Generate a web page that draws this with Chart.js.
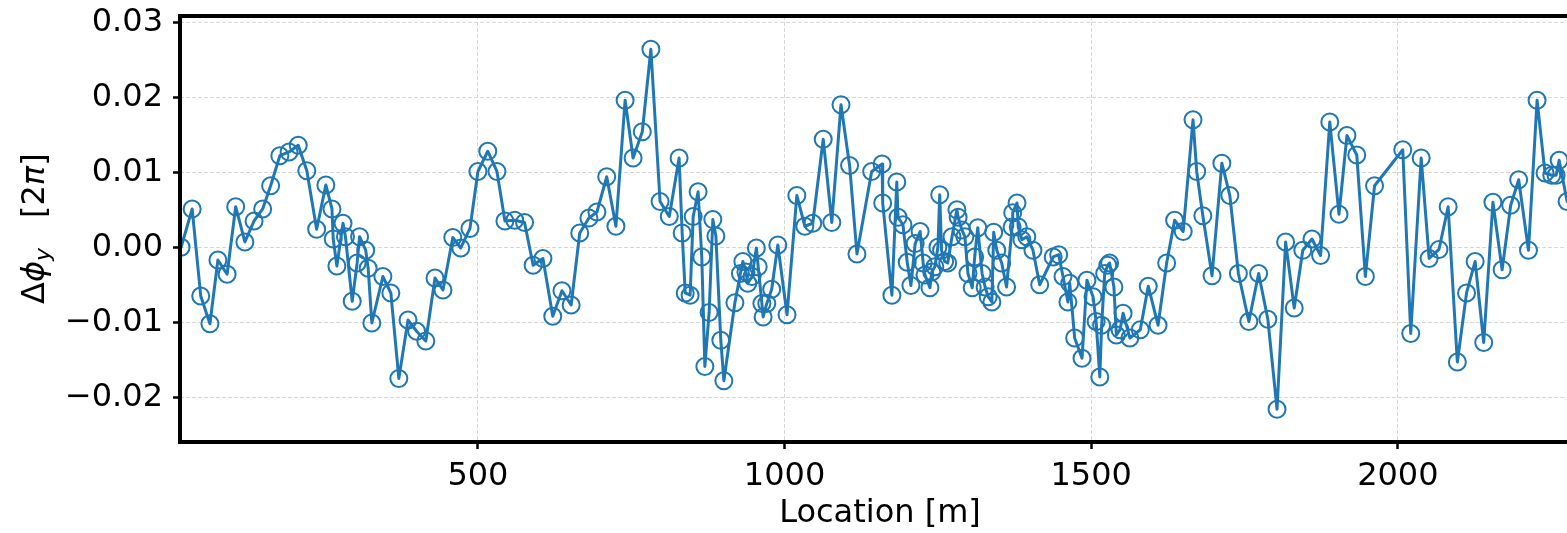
<!DOCTYPE html>
<html>
<head>
<meta charset="utf-8">
<script src="https://cdn.jsdelivr.net/npm/chart.js@4"></script>
<style>
  html, body { margin: 0; padding: 0; background: #fff; overflow: hidden; }
  #wrap { width: 1600px; height: 533px; position: relative; }
</style>
</head>
<body>
<div id="wrap"><canvas id="phaseChart"></canvas></div>
<script>
// vertical phase advance deviation vs. location along the ring

var locations = [
    16, 34, 48, 63, 76, 91, 105, 120, 135, 149,
    162, 177, 192, 207, 221, 237, 252, 262, 264, 270,
    280, 284, 295, 303, 307, 317, 321, 327, 345, 358,
    371, 386, 400, 415, 430, 443, 459, 472, 487, 500,
    516, 531, 544, 560, 576, 590, 606, 622, 637, 652,
    666, 681, 694, 710, 725, 740, 753, 768, 782, 797,
    812, 828, 833, 838, 846, 851, 859, 865, 870, 877,
    883, 888, 896, 901, 919, 928, 932, 937, 940, 947,
    954, 957, 963, 965, 971, 979, 989, 1004, 1020, 1033,
    1046, 1063, 1077, 1092, 1106, 1118, 1142, 1159, 1160, 1175,
    1183, 1185, 1193, 1200, 1206, 1213, 1221, 1226, 1229, 1237,
    1240, 1245, 1250, 1253, 1256, 1261, 1266, 1273, 1281, 1283,
    1289, 1294, 1299, 1306, 1310, 1315, 1322, 1327, 1332, 1338,
    1341, 1346, 1354, 1362, 1371, 1372, 1379, 1381, 1387, 1395,
    1405, 1416, 1438, 1447, 1454, 1462, 1465, 1473, 1485, 1493,
    1503, 1508, 1514, 1517, 1522, 1527, 1530, 1537, 1541, 1547,
    1552, 1563, 1580, 1593, 1609, 1623, 1636, 1650, 1666, 1672,
    1682, 1697, 1713, 1726, 1740, 1757, 1773, 1788, 1803, 1817,
    1831, 1845, 1860, 1874, 1889, 1904, 1917, 1933, 1947, 1962,
    2008, 2021, 2038, 2051, 2067, 2082, 2097, 2112, 2126, 2140,
    2155, 2170, 2184, 2197, 2213, 2227, 2240, 2251, 2258, 2263, 2276
];

var dPhiY = [
    0.0001, 0.0052, -0.0064, -0.0101, -0.0016, -0.0035, 0.0055, 0.0008, 0.0036, 0.0052,
    0.0083, 0.0123, 0.0128, 0.0137, 0.0103, 0.0025, 0.0084, 0.0052, 0.0012, -0.0024,
    0.0033, 0.0015, -0.0071, -0.0020, 0.0015, -0.0003, -0.0027, -0.0100, -0.0038, -0.0060,
    -0.0174, -0.0096, -0.0111, -0.0124, -0.0040, -0.0056, 0.0014, 0.0000, 0.0026, 0.0102,
    0.0129, 0.0102, 0.0036, 0.0037, 0.0034, -0.0023, -0.0014, -0.0091, -0.0057, -0.0076,
    0.0020, 0.0040, 0.0048, 0.0095, 0.0029, 0.0197, 0.0120, 0.0155, 0.0265, 0.0062,
    0.0042, 0.0120, 0.0020, -0.0060, -0.0063, 0.0042, 0.0075, -0.0012, -0.0158, -0.0086,
    0.0038, 0.0016, -0.0123, -0.0177, -0.0073, -0.0034, -0.0018, -0.0032, -0.0047, -0.0038,
    0.0000, -0.0025, -0.0074, -0.0092, -0.0074, -0.0055, 0.0004, -0.0089, 0.0070, 0.0029,
    0.0033, 0.0145, 0.0034, 0.0191, 0.0110, -0.0008, 0.0102, 0.0112, 0.0060, -0.0063,
    0.0088, 0.0041, 0.0031, -0.0019, -0.0050, 0.0006, 0.0022, -0.0020, -0.0036, -0.0053,
    -0.0032, -0.0025, 0.0001, 0.0071, -0.0003, -0.0018, -0.0020, 0.0015, 0.0051, 0.0041,
    0.0024, 0.0015, -0.0034, -0.0053, -0.0012, 0.0027, -0.0034, -0.0052, -0.0065, -0.0072,
    0.0021, -0.0003, -0.0020, -0.0052, 0.0028, 0.0047, 0.0060, 0.0028, 0.0011, 0.0015,
    -0.0003, -0.0049, -0.0012, -0.0009, -0.0038, -0.0072, -0.0047, -0.0120, -0.0147, -0.0043,
    -0.0065, -0.0098, -0.0172, -0.0103, -0.0034, -0.0023, -0.0020, -0.0052, -0.0116, -0.0109,
    -0.0087, -0.0120, -0.0109, -0.0051, -0.0103, -0.0020, 0.0037, 0.0022, 0.0171, 0.0102,
    0.0043, -0.0037, 0.0113, 0.0070, -0.0034, -0.0098, -0.0034, -0.0095, -0.0215, 0.0008,
    -0.0080, -0.0003, 0.0012, -0.0010, 0.0168, 0.0045, 0.0150, 0.0124, -0.0038, 0.0083,
    0.0131, -0.0114, 0.0120, -0.0014, -0.0002, 0.0055, -0.0152, -0.0060, -0.0018, -0.0126,
    0.0061, -0.0029, 0.0057, 0.0091, -0.0003, 0.0197, 0.0100, 0.0097, 0.0097, 0.0117, 0.0062
];

var xTickValues = [500, 1000, 1500, 2000];
var yTickValues = [-0.02, -0.01, 0.00, 0.01, 0.02, 0.03];

var FONT = "'DejaVu Sans', sans-serif";
var FS = 32;
var lineBlue = '#1f77b4';

var points = locations.map(function (s, i) {
    return { x: s, y: dPhiY[i] };
});

// black box around the axes, drawn over the data like a spine
var frame = {
    id: 'frame',
    afterDatasetsDraw: function (chart) {
        var a = chart.chartArea, ctx = chart.ctx;
        ctx.save();
        ctx.strokeStyle = '#000';
        ctx.lineWidth = 4;
        ctx.strokeRect(a.left, a.top, a.right - a.left, a.bottom - a.top);
        ctx.restore();
    }
};

// y label with subscript, rotated
var yLabel = {
    id: 'yLabel',
    afterDraw: function (chart) {
        var ctx = chart.ctx;
        ctx.save();
        ctx.translate(44, 304);
        ctx.rotate(-Math.PI / 2);
        ctx.fillStyle = '#000';
        ctx.textBaseline = 'alphabetic';
        ctx.textAlign = 'left';
        var x = 0;
        function put(txt, font, dy) {
            ctx.font = font;
            ctx.fillText(txt, x, dy || 0);
            x += ctx.measureText(txt).width;
        }
        put('\u0394', FS + 'px ' + FONT);
        put('\u03d5', 'italic ' + FS + 'px ' + FONT);
        put('y', 'italic 22px ' + FONT, 6);
        x += 30;
        put('[2', FS + 'px ' + FONT);
        put('\u03c0', 'italic ' + FS + 'px ' + FONT);
        put(']', FS + 'px ' + FONT);
        ctx.restore();
    }
};

var gridOpts = {
    color: '#d2d2d2',
    lineWidth: 0.9,
    tickLength: 7,
    tickColor: '#000',
    tickWidth: 2.5
};

var ctx = document.getElementById('phaseChart').getContext('2d');
var phaseChart = new Chart(ctx, {
    type: 'line',
    data: {
        datasets: [{
            data: points,
            borderColor: lineBlue,
            borderWidth: 3,
            borderJoinStyle: 'round',
            borderCapStyle: 'round',
            pointRadius: 8.5,
            pointHoverRadius: 8.5,
            pointBorderWidth: 2,
            pointBorderColor: lineBlue,
            pointBackgroundColor: 'rgba(0,0,0,0)',
            tension: 0,
            clip: 0
        }]
    },
    options: {
        responsive: true,
        maintainAspectRatio: false,
        animation: false,
        layout: { padding: { left: 0, top: 16, right: 20, bottom: 0 } },
        plugins: {
            legend: { display: false },
            tooltip: { enabled: false }
        },
        scales: {
            x: {
                type: 'linear',
                min: 14.2,
                max: 2297,
                afterFit: function (scale) {
                    scale.height = 91;
                    scale.paddingLeft = 0;
                    scale.paddingRight = 0;
                },
                afterBuildTicks: function (scale) {
                    scale.ticks = xTickValues.map(function (v) { return { value: v }; });
                },
                ticks: {
                    color: '#000',
                    padding: 8,
                    maxRotation: 0,
                    font: { family: FONT, size: FS },
                    callback: function (v) { return String(v); }
                },
                grid: gridOpts,
                border: { display: false, dash: [4, 2] },
                title: {
                    display: true,
                    text: 'Location [m]',
                    color: '#000',
                    font: { family: FONT, size: FS },
                    padding: { top: 0, bottom: 0 }
                }
            },
            y: {
                min: -0.02587,
                max: 0.03093,
                afterFit: function (scale) {
                    scale.width = 180;
                    scale.paddingTop = 0;
                    scale.paddingBottom = 0;
                },
                afterBuildTicks: function (scale) {
                    scale.ticks = yTickValues.map(function (v) { return { value: v }; });
                },
                ticks: {
                    color: '#000',
                    padding: 10,
                    font: { family: FONT, size: FS },
                    callback: function (v) { return v.toFixed(2).replace('-', '\u2212'); }
                },
                grid: gridOpts,
                border: { display: false, dash: [4, 2] }
            }
        }
    },
    plugins: [frame, yLabel]
});
</script>
</body>
</html>
